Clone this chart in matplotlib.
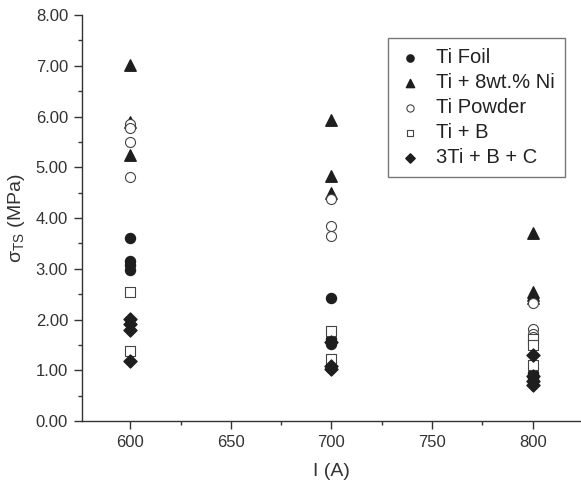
# -*- coding: utf-8 -*-
import matplotlib
matplotlib.use('Agg')
import matplotlib.pyplot as plt
from matplotlib.ticker import MultipleLocator, FormatStrFormatter

plt.rcParams['font.family'] = ['Liberation Sans', 'DejaVu Sans']
plt.rcParams['mathtext.default'] = 'regular'

# 数据 ============================================
ti_foil_x = [600, 600, 600, 600, 700, 700, 700, 700, 800, 800, 800]
ti_foil_y = [3.60, 3.15, 3.08, 2.98, 2.42, 1.62, 1.52, 1.05, 0.95, 0.85, 0.78]

ti_ni_x = [600, 600, 600, 700, 700, 700, 800, 800, 800, 800]
ti_ni_y = [7.02, 5.90, 5.25, 5.93, 4.82, 4.50, 3.70, 2.55, 2.48, 2.42]

ti_powder_x = [600, 600, 600, 600, 700, 700, 700, 800, 800, 800, 800]
ti_powder_y = [5.85, 5.77, 5.50, 4.80, 4.38, 3.85, 3.65, 2.32, 1.82, 1.72, 1.65]

ti_b_x = [600, 600, 700, 700, 800, 800, 800]
ti_b_y = [2.55, 1.38, 1.78, 1.22, 1.62, 1.50, 1.10]

ti_bc_x = [600, 600, 600, 600, 700, 700, 700, 800, 800, 800, 800]
ti_bc_y = [2.02, 1.92, 1.80, 1.18, 1.55, 1.08, 1.02, 1.30, 0.88, 0.80, 0.72]

labels = ['Ti Foil', 'Ti + 8wt.% Ni', 'Ti Powder', 'Ti + B', '3Ti + B + C']

# 绘图 ============================================
fig = plt.figure(figsize=(5.81, 4.83), dpi=100)
ax = fig.add_axes([0.141, 0.128, 0.859, 0.841])

dark = '#1e1e1e'
ax.scatter(ti_foil_x, ti_foil_y, marker='o', s=52, color=dark, label=labels[0], zorder=3)
ax.scatter(ti_ni_x, ti_ni_y, marker='^', s=68, color=dark, label=labels[1], zorder=3)
ax.scatter(ti_powder_x, ti_powder_y, marker='o', s=52, facecolor='white',
           edgecolor='#444444', linewidth=0.8, label=labels[2], zorder=3)
ax.scatter(ti_b_x, ti_b_y, marker='s', s=46, facecolor='white',
           edgecolor='#444444', linewidth=0.8, label=labels[3], zorder=3)
ax.scatter(ti_bc_x, ti_bc_y, marker='D', s=44, color=dark, label=labels[4], zorder=3)

ax.set_xlim(576, 824)
ax.set_ylim(0, 8)
ax.xaxis.set_major_locator(MultipleLocator(50))
ax.xaxis.set_minor_locator(MultipleLocator(25))
ax.yaxis.set_major_locator(MultipleLocator(1))
ax.yaxis.set_minor_locator(MultipleLocator(0.5))
ax.yaxis.set_major_formatter(FormatStrFormatter('%.2f'))

for s in ['top', 'right']:
    ax.spines[s].set_visible(False)
for s in ['left', 'bottom']:
    ax.spines[s].set_color('#333333')
    ax.spines[s].set_linewidth(1.0)
ax.tick_params(which='major', direction='out', length=6, width=1, color='#333333',
               labelsize=12, labelcolor='#333333', pad=4)
ax.tick_params(which='minor', direction='out', length=3, width=1, color='#333333')

ax.set_xlabel('I (A)', fontsize=14, color='#333333', labelpad=9)
ax.set_ylabel(r'$\sigma_{TS}$ (MPa)', fontsize=14, color='#333333', labelpad=6)

leg = ax.legend(loc='upper right', bbox_to_anchor=(0.968, 0.943), fontsize=14.5,
                frameon=True, fancybox=False, edgecolor='#555555',
                handlelength=1.2, handletextpad=0.7, labelspacing=0.3,
                borderpad=0.5, borderaxespad=0.0, markerscale=0.72, scatterpoints=1)
leg.get_frame().set_linewidth(1.0)
for t in leg.get_texts():
    t.set_color('#222222')

plt.savefig('out.png', dpi=100)
